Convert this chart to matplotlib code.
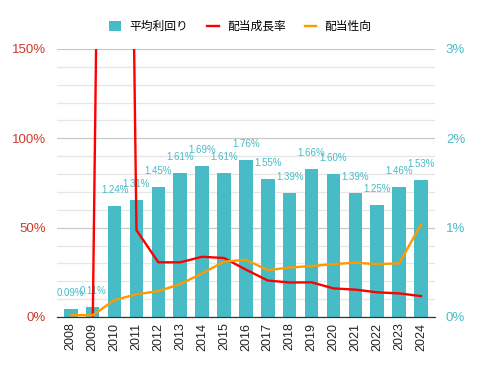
import matplotlib.pyplot as plt
from matplotlib.ticker import MultipleLocator, FuncFormatter

plt.rcParams['font.family'] = ['Noto Sans CJK JP', 'DejaVu Sans']

years = ['2008', '2009', '2010', '2011', '2012', '2013', '2014', '2015', '2016',
         '2017', '2018', '2019', '2020', '2021', '2022', '2023', '2024']
# 平均利回り (%), right axis
yield_avg = [0.09, 0.11, 1.24, 1.31, 1.45, 1.61, 1.69, 1.61, 1.76,
             1.55, 1.39, 1.66, 1.60, 1.39, 1.25, 1.46, 1.53]
# 配当成長率 (%), left axis -- 2008 has no value, 2010 is far off the top
growth = [None, -6, 1000, 48.6, 30.6, 30.6, 33.7, 33.0, 26.5,
          20.4, 19.3, 19.4, 16.0, 15.3, 13.8, 13.2, 11.7]
# 配当性向 (%), left axis
payout = [1.0, 1.0, 9.5, 12.7, 14.5, 18.4, 24.4, 31.0, 32.0,
          26.2, 27.7, 28.5, 29.6, 30.4, 29.6, 30.0, 51.8]

teal = '#47BBC6'
red = '#FF0000'
orange = '#FF9900'
num_font = 'Liberation Sans'

fig = plt.figure(figsize=(4.81, 3.71), dpi=100)
ax = fig.add_axes([0.1185, 0.1456, 0.7855, 0.7224])
ax2 = ax.twinx()

x = list(range(len(years)))

# bars on the first axes, ticks moved to the right
bars = ax.bar(x, yield_avg, width=0.62, color=teal, zorder=2, label='平均利回り')
ax.set_ylim(0, 3)
ax.set_xlim(-0.63, len(years) - 1 + 0.63)
ax.yaxis.tick_right()
ax.yaxis.set_major_locator(MultipleLocator(1))
ax.yaxis.set_minor_locator(MultipleLocator(0.2))
ax.yaxis.set_major_formatter(FuncFormatter(lambda v, p: f'{v:.0f}%'))
ax.tick_params(axis='y', which='both', length=0, colors=teal, labelsize=9.5, pad=8)
for t in ax.get_yticklabels():
    t.set_family(num_font)
ax.grid(axis='y', which='major', color='#c8c8c8', lw=0.9, zorder=0)
ax.grid(axis='y', which='minor', color='#e6e6e6', lw=0.9, zorder=0)
ax.set_axisbelow(True)

for i, v in enumerate(yield_avg):
    ax.annotate(f'{v:.2f}%', (i, v), xytext=(0, 11.5), textcoords='offset points',
                ha='center', va='center', fontsize=7, color=teal,
                family=num_font)

ax.set_xticks(x)
ax.set_xticklabels(years, rotation=90, fontsize=9, family=num_font, color='#222222')
ax.tick_params(axis='x', length=0, pad=4)

# lines on the twin axes, ticks on the left
gx = [i for i, g in zip(x, growth) if g is not None]
gy = [g for g in growth if g is not None]
ax2.plot(gx, gy, color=red, lw=1.7, label='配当成長率', zorder=3)
ax2.plot(x, payout, color=orange, lw=1.7, label='配当性向', zorder=3)
ax2.set_ylim(0, 150)
ax2.yaxis.tick_left()
ax2.yaxis.set_major_locator(MultipleLocator(50))
ax2.yaxis.set_major_formatter(FuncFormatter(lambda v, p: f'{v:.0f}%'))
ax2.tick_params(axis='y', length=0, colors='#CC3A2A', labelsize=9.5, pad=8)
for t in ax2.get_yticklabels():
    t.set_family(num_font)

for a in (ax, ax2):
    for s in ['top', 'left', 'right']:
        a.spines[s].set_visible(False)
    a.spines['bottom'].set_color('#333333')

handles = [bars] + ax2.get_lines()
labels = ['平均利回り', '配当成長率', '配当性向']
fig.legend(handles, labels, loc='center', bbox_to_anchor=(0.5, 0.928), ncol=3,
           frameon=False, fontsize=8.5, handlelength=1.0, handleheight=0.9,
           columnspacing=1.6, handletextpad=0.7)

fig.savefig('out.png', dpi=100)
